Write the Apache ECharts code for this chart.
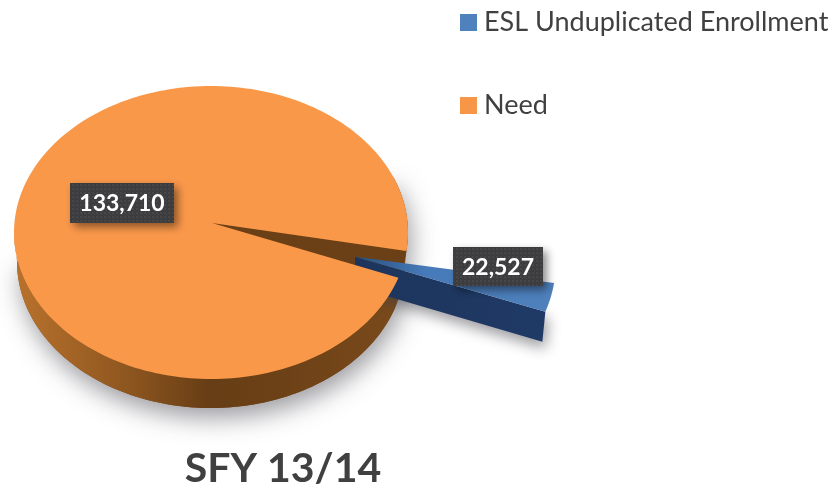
<!DOCTYPE html>
<html>
<head>
<meta charset="utf-8">
<style>html,body{margin:0;padding:0;background:#fff}#c{width:832px;height:492px}</style>
<script src="https://cdn.jsdelivr.net/npm/echarts@6/dist/echarts.min.js"></script>
</head>
<body>
<div id="c"></div>
<script>
const categories = ['ESL Unduplicated Enrollment', 'Need'];
const enrollmentValues = [22527];
const needValues = [133710];
const chartTitle = 'SFY 13/14';

// Layout of the tilted pie
const CX = 211, CY = 232.5, RX = 197, RY = 146.5, DEPTH = 29;
const APEX = [212, 223];       // perspective puts the pie's centre point above the ellipse centre
const START_DEG = 7.3;         // where the first slice begins
const FORESHORTEN = 0.206;     // strong perspective in the reference narrows the slice
const BLUE_C = [343, 263], BLUE_APEX = [355, 256.7], BLUE_SCALE = 1.08, BLUE_DEPTH = 30;
const LABEL_BOX = { esl: [90, 39], need: [104, 40] };
const LABEL_POS = { esl: [453, 247], need: [70, 183] };

const total = enrollmentValues[0] + needValues[0];
const span = enrollmentValues[0] / total * 360 * FORESHORTEN;
const a0 = START_DEG, a1 = START_DEG + span;

function arc(cx, cy, rx, ry, from, to) {
  const pts = [], n = Math.max(2, Math.ceil(Math.abs(to - from) / 1.5));
  for (let i = 0; i <= n; i++) {
    const t = (from + (to - from) * i / n) * Math.PI / 180;
    pts.push([cx + rx * Math.cos(t), cy + ry * Math.sin(t)]);
  }
  return pts;
}
function patternCanvas() {
  const c = document.createElement('canvas');
  c.width = c.height = 4;
  const g = c.getContext('2d');
  g.fillStyle = '#3c3c3e'; g.fillRect(0, 0, 4, 4);
  g.fillStyle = '#47474a'; g.fillRect(0, 0, 2, 2); g.fillRect(2, 2, 1, 1);
  return c;
}
const boxFill = { image: patternCanvas(), repeat: 'repeat' };
function labelEls(value, pos, size, fontSize) {
  return [{
    type: 'rect', z2: 5,
    shape: { x: pos[0], y: pos[1], width: size[0], height: size[1] },
    style: { fill: boxFill, shadowBlur: 9, shadowOffsetX: 4, shadowOffsetY: 4, shadowColor: 'rgba(0,0,0,0.45)' }
  }, {
    type: 'text', z2: 6,
    style: {
      text: value.toLocaleString('en-US'), x: pos[0] + size[0] / 2, y: pos[1] + size[1] / 2 + 1,
      align: 'center', verticalAlign: 'middle', fill: '#ffffff',
      font: 'bold ' + fontSize + 'px Lato, "Open Sans", sans-serif'
    }
  }];
}
const hGrad = (x0, x1, stops) => ({ type: 'linear', x: x0, y: 0, x2: x1, y2: 0, global: true,
  colorStops: stops.map(s => ({ offset: s[0], color: s[1] })) });

function renderNeed(params, api) {
  const value = api.value(0);
  const top = arc(CX, CY, RX, RY, a1, a0 + 360);
  const wallTop = arc(CX, CY, RX, RY, a1, 180);
  const wallBottom = arc(CX, CY + DEPTH, RX - 3, RY, 180, a1);
  const shade = arc(CX, CY, RX, RY, -22, 8).concat(arc(CX, CY + DEPTH, RX - 3, RY, 8, 180));
  return { type: 'group', children: [
    { type: 'polygon', z2: 1, shape: { points: shade },
      style: { fill: '#7a4a1b', shadowBlur: 24, shadowOffsetX: 3, shadowOffsetY: 10, shadowColor: 'rgba(60,60,70,0.5)' } },
    { type: 'polygon', z2: 1, shape: { points: wallTop.concat(wallBottom) },
      style: { fill: hGrad(14, 408, [[0, '#b9722c'], [0.28, '#8f5720'], [0.5, '#663d15'], [0.75, '#704318'], [1, '#7a4a1b']]) } },
    { type: 'polygon', z2: 1, shape: { points: [APEX].concat(arc(CX, CY, RX, RY, a0, a1)) },
      style: { fill: '#6b4017' } },
    { type: 'polygon', z2: 3, shape: { points: [APEX].concat(top) }, style: { fill: '#fa984a' } }
  ].concat(labelEls(value, LABEL_POS.need, LABEL_BOX.need, 23)) };
}

function renderEsl(params, api) {
  const value = api.value(0);
  const outer = arc(BLUE_C[0], BLUE_C[1], RX * BLUE_SCALE, RY * BLUE_SCALE, a0, a1);
  const last = outer[outer.length - 1];
  const lastLow = [last[0] - 3, last[1] + BLUE_DEPTH];
  const frontWall = [BLUE_APEX, last, lastLow, [BLUE_APEX[0], BLUE_APEX[1] + BLUE_DEPTH]];
  return { type: 'group', children: [
    { type: 'polygon', z2: 2, shape: { points: frontWall },
      style: { fill: hGrad(BLUE_APEX[0], last[0], [[0, '#1d355c'], [1, '#1f3a66']]),
        shadowBlur: 14, shadowOffsetX: 3, shadowOffsetY: 7, shadowColor: 'rgba(60,60,70,0.5)' } },
    { type: 'polygon', z2: 2, shape: { points: [BLUE_APEX].concat(outer) },
      style: { fill: hGrad(BLUE_APEX[0], last[0] + 8, [[0, '#27507f'], [0.35, '#467ab8'], [1, '#4f81bd']]) } }
  ].concat(labelEls(value, LABEL_POS.esl, LABEL_BOX.esl, 23)) };
}

const chart = echarts.init(document.getElementById('c'), null, { renderer: 'canvas' });
chart.setOption({
  animation: false,
  backgroundColor: '#ffffff',
  title: {
    text: chartTitle, left: 283, top: 448, padding: 0, textAlign: 'center',
    textStyle: { fontFamily: 'Lato, "Open Sans", sans-serif', fontWeight: 'bold', fontSize: 41, color: '#404040' }
  },
  legend: {
    orient: 'vertical', left: 460, top: 9, padding: 0, itemWidth: 17, itemHeight: 17, itemGap: 56, icon: 'rect',
    data: categories,
    textStyle: { fontFamily: 'Lato, "Open Sans", sans-serif', fontSize: 27, color: '#404040', padding: [0, 0, 0, 2] }
  },
  series: [
    { type: 'custom', name: categories[0], coordinateSystem: 'none', renderItem: renderEsl,
      data: enrollmentValues.map(v => [v]), itemStyle: { color: '#4f81bd' } },
    { type: 'custom', name: categories[1], coordinateSystem: 'none', renderItem: renderNeed,
      data: needValues.map(v => [v]), itemStyle: { color: '#f79646' } }
  ]
});
</script>
</body>
</html>
